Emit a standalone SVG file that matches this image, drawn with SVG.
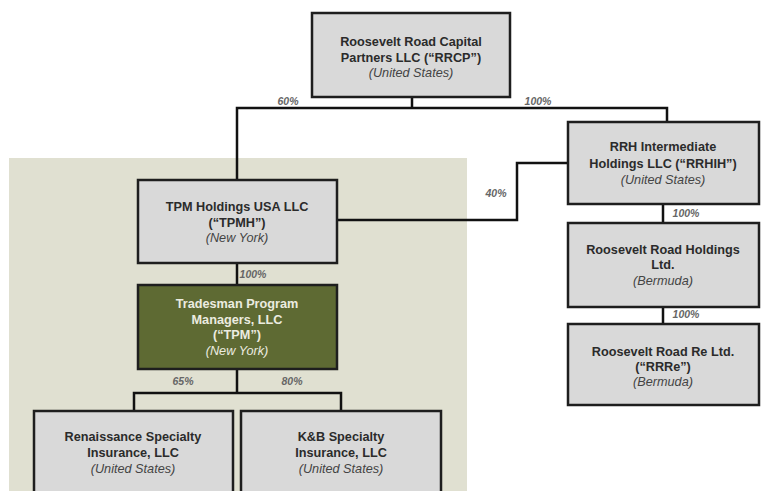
<svg xmlns="http://www.w3.org/2000/svg" width="761" height="491" viewBox="0 0 761 491">
<style>
.box{fill:#d9d9d9;stroke:#1e1e1e;stroke-width:2.5}
.dark{fill:#5e6a33;stroke:#1e1e1e;stroke-width:2.5}
.t{font-family:"Liberation Sans",Arial,sans-serif;font-size:12.7px;text-anchor:middle}
.b{font-weight:bold;fill:#2b2b2b}
.i{font-style:italic;fill:#444}
.w{fill:#ecece0}
.p{font-family:"Liberation Sans",Arial,sans-serif;font-size:10.5px;font-style:italic;font-weight:bold;fill:#666;text-anchor:middle}
.c{fill:none;stroke:#111;stroke-width:2.5}
</style>
<rect x="0" y="0" width="761" height="491" fill="#ffffff"/>
<rect x="9" y="158" width="458" height="333" fill="#e0e0d1"/>
<g id="connectors">
<path class="c" d="M412 97 V108 M237 180 V108 H667 V122"/>
<path class="c" d="M338 220 H517 V163 H568"/>
<path class="c" d="M663 204 V223 M663 307 V324"/>
<path class="c" d="M237 263 V285 M237 369 V393 M134 411 V393 H341 V411"/>
<text class="p" x="288" y="105">60%</text>
<text class="p" x="538" y="105">100%</text>
<text class="p" x="496" y="197">40%</text>
<text class="p" x="686" y="217">100%</text>
<text class="p" x="686" y="318">100%</text>
<text class="p" x="253" y="278">100%</text>
<text class="p" x="183" y="385">65%</text>
<text class="p" x="292" y="385">80%</text>
</g>
<g id="rrcp">
<rect class="box" x="312" y="13" width="198" height="84"/>
<text class="t b" x="411" y="46">Roosevelt Road Capital</text>
<text class="t b" x="411" y="62">Partners LLC (“RRCP”)</text>
<text class="t i" x="411" y="77">(United States)</text>
</g>
<g id="rrhih">
<rect class="box" x="568" y="122" width="191" height="82"/>
<text class="t b" x="663" y="151">RRH Intermediate</text>
<text class="t b" x="663" y="168">Holdings LLC (“RRHIH”)</text>
<text class="t i" x="663" y="184">(United States)</text>
</g>
<g id="rrh">
<rect class="box" x="568" y="223" width="191" height="84"/>
<text class="t b" x="663" y="254">Roosevelt Road Holdings</text>
<text class="t b" x="663" y="269">Ltd.</text>
<text class="t i" x="663" y="285">(Bermuda)</text>
</g>
<g id="rrre">
<rect class="box" x="568" y="324" width="191" height="81"/>
<text class="t b" x="663" y="356">Roosevelt Road Re Ltd.</text>
<text class="t b" x="663" y="371">(“RRRe”)</text>
<text class="t i" x="663" y="386">(Bermuda)</text>
</g>
<g id="tpmh">
<rect class="box" x="138" y="180" width="199" height="83"/>
<text class="t b" x="237" y="211">TPM Holdings USA LLC</text>
<text class="t b" x="237" y="227">(“TPMH”)</text>
<text class="t i" x="237" y="242">(New York)</text>
</g>
<g id="tpm">
<rect class="dark" x="138" y="285" width="199" height="84"/>
<text class="t b w" x="237" y="308">Tradesman Program</text>
<text class="t b w" x="237" y="324">Managers, LLC</text>
<text class="t b w" x="237" y="339">(“TPM”)</text>
<text class="t i w" x="237" y="355">(New York)</text>
</g>
<g id="renaissance">
<rect class="box" x="34" y="411" width="199" height="90"/>
<text class="t b" x="133" y="441">Renaissance Specialty</text>
<text class="t b" x="133" y="457">Insurance, LLC</text>
<text class="t i" x="133" y="473">(United States)</text>
</g>
<g id="kb">
<rect class="box" x="241" y="411" width="200" height="90"/>
<text class="t b" x="341" y="441">K&amp;B Specialty</text>
<text class="t b" x="341" y="457">Insurance, LLC</text>
<text class="t i" x="341" y="473">(United States)</text>
</g>
</svg>
